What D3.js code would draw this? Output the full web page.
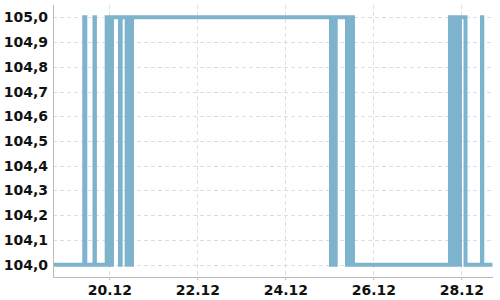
<!DOCTYPE html>
<html>
<head>
<meta charset="utf-8">
<script src="https://cdn.jsdelivr.net/npm/d3@7"></script>
<style>
  html, body { margin: 0; padding: 0; background: #fff; }
  svg { display: block; }
  .tick text { font-family: "DejaVu Sans", sans-serif; font-weight: bold; font-size: 14px; fill: #111; }
</style>
</head>
<body>
<svg width="500" height="300"></svg>
<script>
// --- DATA ---
// step series: moments where the value changes
const changeTimes = [
  "2023-12-18 17:18",
  "2023-12-19 10:22", "2023-12-19 10:55",
  "2023-12-19 15:56", "2023-12-19 16:09",
  "2023-12-19 22:35", "2023-12-19 23:34", "2023-12-20 00:23", "2023-12-20 00:56", "2023-12-20 01:28",
  "2023-12-20 05:50", "2023-12-20 06:13",
  "2023-12-20 09:29", "2023-12-20 10:28", "2023-12-20 11:17", "2023-12-20 12:23",
  "2023-12-25 00:56", "2023-12-25 02:01", "2023-12-25 02:34", "2023-12-25 03:30",
  "2023-12-25 09:40", "2023-12-25 11:18", "2023-12-25 12:56",
  "2023-12-27 17:50", "2023-12-27 19:12", "2023-12-27 20:34", "2023-12-27 21:56", "2023-12-27 23:18",
  "2023-12-28 02:18",
  "2023-12-28 11:18", "2023-12-28 11:28",
  "2023-12-28 17:00"
];
const levels = [
  104.0,
  105.0, 104.0,
  105.0, 104.0,
  105.0, 104.0, 105.0, 104.0, 105.0,
  104.0, 105.0,
  104.0, 105.0, 104.0, 105.0,
  104.0, 105.0, 104.0, 105.0,
  104.0, 105.0, 104.0,
  105.0, 104.0, 105.0, 104.0, 105.0,
  104.0,
  105.0, 104.0,
  104.0
];
const timeDomain = ["2023-12-18 17:18", "2023-12-28 17:18"];
const valueDomain = [103.95, 105.05];
const xTickDates = ["2023-12-20", "2023-12-22", "2023-12-24", "2023-12-26", "2023-12-28"];
const yTickValues = [104.0, 104.1, 104.2, 104.3, 104.4, 104.5, 104.6, 104.7, 104.8, 104.9, 105.0];

const parseTime = d3.timeParse("%Y-%m-%d %H:%M");
const parseDay = d3.timeParse("%Y-%m-%d");
const data = changeTimes.map((t, i) => ({ date: parseTime(t), value: levels[i] }));

const svg = d3.select("svg");
const margin = { top: 5, right: 7, bottom: 23, left: 53 };
const width = 500 - margin.left - margin.right;
const height = 300 - margin.top - margin.bottom;

const x = d3.scaleTime()
  .domain(timeDomain.map(parseTime))
  .range([margin.left, margin.left + width]);

const y = d3.scaleLinear()
  .domain(valueDomain)
  .range([margin.top + height, margin.top]);

// --- GRID ---
svg.append("g")
  .selectAll("line")
  .data(yTickValues)
  .enter().append("line")
  .attr("x1", margin.left).attr("x2", margin.left + width)
  .attr("y1", d => Math.round(y(d)) + 0.5).attr("y2", d => Math.round(y(d)) + 0.5)
  .attr("stroke", "#dedede").attr("stroke-dasharray", "4,3");

svg.append("g")
  .selectAll("line")
  .data(xTickDates.map(parseDay))
  .enter().append("line")
  .attr("x1", d => Math.round(x(d)) + 0.5).attr("x2", d => Math.round(x(d)) + 0.5)
  .attr("y1", margin.top).attr("y2", margin.top + height)
  .attr("stroke", "#dedede").attr("stroke-dasharray", "4,3");

// --- LINE ---
const line = d3.line()
  .x(d => x(d.date))
  .y(d => y(d.value))
  .curve(d3.curveStepAfter);

svg.append("path")
  .datum(data)
  .attr("d", line)
  .attr("fill", "none")
  .attr("stroke", "#7db3cc")
  .attr("stroke-width", 4)
  .attr("stroke-linejoin", "miter");

// --- AXES ---
const fmtY = v => d3.format(".1f")(v).replace(".", ",");

const yAxis = svg.append("g")
  .attr("transform", `translate(${margin.left},0)`)
  .call(d3.axisLeft(y).tickValues(yTickValues).tickFormat(fmtY).tickSize(0).tickPadding(5));
yAxis.select(".domain").attr("stroke", "#bbb").attr("d", `M0.5,${margin.top}V${margin.top + height}`);

const xAxis = svg.append("g")
  .attr("transform", `translate(0,${margin.top + height})`)
  .call(d3.axisBottom(x).tickValues(xTickDates.map(parseDay)).tickFormat(d3.timeFormat("%d.%m")).tickSize(3).tickPadding(5));
xAxis.select(".domain").attr("stroke", "#bbb").attr("d", `M${margin.left},0.5H${margin.left + width}`);
xAxis.selectAll(".tick line").attr("stroke", "#bbb");
</script>
</body>
</html>
